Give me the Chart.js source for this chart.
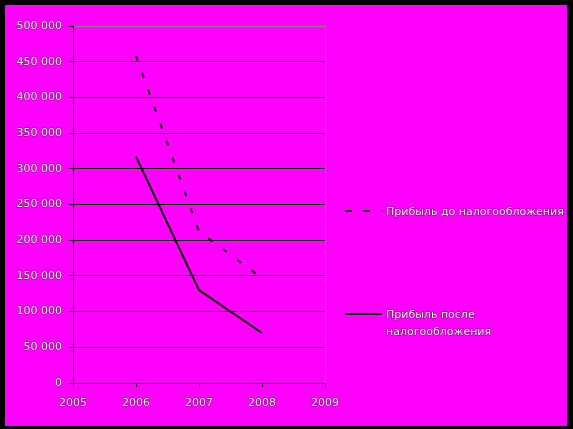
<!DOCTYPE html>
<html>
<head>
<meta charset="utf-8">
<script src="https://cdn.jsdelivr.net/npm/chart.js@4/dist/chart.umd.min.js"></script>
<style>
  html, body { margin: 0; padding: 0; background: #000; }
  canvas { display: block; }
</style>
</head>
<body>
<canvas id="profitChart" width="573" height="429"></canvas>
<script>
// данные графика
const years = ['2005', '2006', '2007', '2008', '2009'];
const beforeTax = [null, 458000, 212000, 147000, null];
const afterTax = [null, 317000, 130000, 70000, null];
const seriesNames = ['Прибыль до налогообложения', 'Прибыль после налогообложения'];

const textColor = '#f0f0f0';
const font = { family: 'DejaVu Sans', size: 11 };

// фон: чёрная рамка и розовая подложка
const backgroundPlugin = {
    id: 'bg',
    beforeDraw(chart) {
        const c = chart.ctx;
        c.save();
        c.fillStyle = '#000';
        c.fillRect(0, 0, chart.width, chart.height);
        c.fillStyle = '#ff00ff';
        c.fillRect(5, 5, 562, 421);
        c.restore();
    },
    beforeDatasetsDraw(chart) {
        // серая правая граница области построения
        const a = chart.chartArea;
        const c = chart.ctx;
        c.save();
        c.strokeStyle = '#808080';
        c.lineWidth = 1;
        c.beginPath();
        c.moveTo(a.right + 0.5, a.top);
        c.lineTo(a.right + 0.5, a.bottom);
        c.stroke();
        c.restore();
    }
};

// легенда справа, с переносом строк
const legendPlugin = {
    id: 'sideLegend',
    afterDraw(chart) {
        const c = chart.ctx;
        const rows = [211, 314];
        c.save();
        c.font = font.size + 'px ' + font.family;
        c.textBaseline = 'middle';
        chart.data.datasets.forEach((ds, i) => {
            const y = rows[i];
            c.strokeStyle = '#000';
            c.lineWidth = 2;
            c.setLineDash(ds.borderDash && ds.borderDash.length ? [7, 11] : []);
            c.beginPath();
            c.moveTo(345, y);
            c.lineTo(382, y);
            c.stroke();
            c.setLineDash([]);
            // перенос по ширине
            const words = ds.label.split(' ');
            const lines = [];
            let cur = '';
            words.forEach(w => {
                const t = cur ? cur + ' ' + w : w;
                if (c.measureText(t).width > 182 && cur) {
                    lines.push(cur);
                    cur = w;
                } else {
                    cur = t;
                }
            });
            lines.push(cur);
            lines.forEach((ln, k) => {
                const ty = y + 1 + k * 17;
                c.lineWidth = 1;
                c.strokeStyle = 'rgba(0,0,0,0.55)';
                c.strokeText(ln, 386, ty);
                c.fillStyle = textColor;
                c.fillText(ln, 386, ty);
            });
        });
        c.restore();
    }
};

const ctx = document.getElementById('profitChart').getContext('2d');
const profitChart = new Chart(ctx, {
    type: 'line',
    data: {
        labels: years,
        datasets: [{
            label: seriesNames[0],
            data: beforeTax,
            borderColor: '#000',
            borderWidth: 2,
            borderDash: [5, 13],
            pointRadius: 0,
            tension: 0,
            fill: false
        },
        {
            label: seriesNames[1],
            data: afterTax,
            borderColor: '#000',
            borderWidth: 2,
            pointRadius: 0,
            tension: 0,
            fill: false
        }]
    },
    options: {
        responsive: false,
        animation: false,
        layout: { padding: { top: 26, right: 248, left: 0, bottom: 0 } },
        plugins: {
            legend: { display: false },
            tooltip: { enabled: false }
        },
        scales: {
            x: {
                offset: false,
                grid: { drawOnChartArea: false, drawTicks: true, tickLength: 4, color: '#000' },
                border: { color: '#000', width: 1 },
                ticks: {
                    color: textColor, font: font, padding: 10, maxRotation: 0,
                    textStrokeColor: 'rgba(0,0,0,0.55)', textStrokeWidth: 1
                },
                afterFit(scale) { scale.height = 46; }
            },
            y: {
                min: 0,
                max: 500000,
                grid: {
                    color: c => c.tick && c.tick.value === 500000 ? '#808080' : '#000',
                    tickColor: '#000',
                    tickLength: 4
                },
                border: { color: '#000', width: 1 },
                ticks: {
                    stepSize: 50000,
                    color: textColor, font: font, padding: 7,
                    textStrokeColor: 'rgba(0,0,0,0.55)', textStrokeWidth: 1,
                    callback: v => String(v).replace(/\B(?=(\d{3})+(?!\d))/g, ' ')
                },
                afterFit(scale) { scale.width = 73; }
            }
        }
    },
    plugins: [backgroundPlugin, legendPlugin]
});
</script>
</body>
</html>
